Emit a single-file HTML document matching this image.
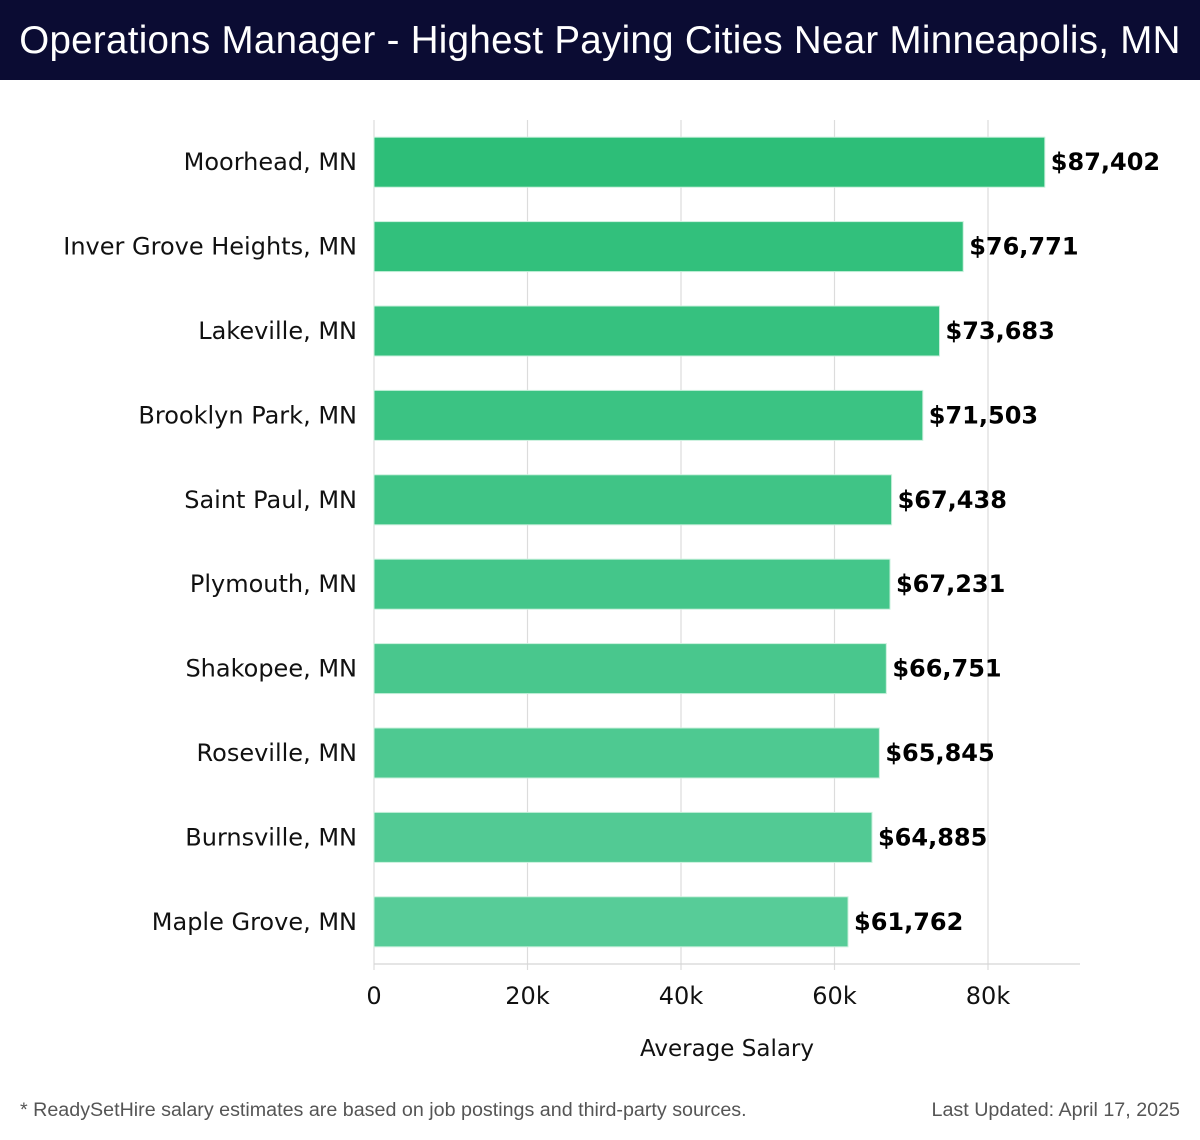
<!DOCTYPE html>
<html><head><meta charset="utf-8">
<style>
body{margin:0;background:#fff;width:1200px;height:1140px;overflow:hidden;font-family:"DejaVu Sans","Liberation Sans",sans-serif}
#title{position:absolute;left:0;top:0;width:1200px;height:80px;background:#0b0c33;color:#fff;font-size:38.5px;line-height:82px;text-align:center;font-family:"Liberation Sans","DejaVu Sans",sans-serif;letter-spacing:0.3px;white-space:nowrap}
.foot{position:absolute;top:1099px;font-size:19.7px;color:#555;font-family:"Liberation Sans",sans-serif}
</style></head><body>
<div id="title">Operations Manager - Highest Paying Cities Near Minneapolis, MN</div>
<svg id="chart" width="1200" height="1140" style="position:absolute;left:0;top:0"></svg>
<div class="foot" style="left:20px">* ReadySetHire salary estimates are based on job postings and third-party sources.</div>
<div class="foot" style="right:20px">Last Updated: April 17, 2025</div>
<script>
const categories=["Moorhead, MN","Inver Grove Heights, MN","Lakeville, MN","Brooklyn Park, MN","Saint Paul, MN","Plymouth, MN","Shakopee, MN","Roseville, MN","Burnsville, MN","Maple Grove, MN"];
const salaries=[87402,76771,73683,71503,67438,67231,66751,65845,64885,61762];
const tickValues=[0,20000,40000,60000,80000];
const tickLabels=["0","20k","40k","60k","80k"];
const NS="http://www.w3.org/2000/svg";
const svg=document.getElementById('chart');
const x0=374,pxPerUnit=(988-374)/80000,plotTop=120,plotBottom=964,plotRight=1080;
const step=(plotBottom-plotTop)/categories.length,barH=50;
const xs=v=>x0+v*pxPerUnit;
const ys=i=>plotTop+step*i+step/2;
function mk(t,a){const e=document.createElementNS(NS,t);for(const k in a)e.setAttribute(k,a[k]);svg.appendChild(e);return e;}
tickValues.forEach((v,i)=>{
  const g=mk('line',{x1:xs(v),x2:xs(v),y1:plotTop,y2:plotBottom+6,stroke:'#dcdcdc','stroke-width':1.2});
  
  
  const t=mk('text',{x:xs(v),y:1004,'text-anchor':'middle','font-size':24,fill:'#111'});
  t.textContent=tickLabels[i];
  
  
});
const ax=mk('line',{x1:x0,x2:plotRight,y1:plotBottom,y2:plotBottom,stroke:'#d5d5d5','stroke-width':1.2});


const c0=[45,190,120],c1=[87,204,152];
categories.forEach((c,i)=>{
  const f=i/(categories.length-1);
  const col='rgb('+c0.map((v,k)=>Math.round(v+(c1[k]-v)*f)).join(',')+')';
  const r=mk('rect',{x:x0,y:ys(i)-barH/2,width:xs(salaries[i])-x0,height:barH,fill:col,stroke:'#c9f0dc','stroke-width':1});
  
  
  const l=mk('text',{x:357,y:ys(i)+8,'text-anchor':'end','font-size':24,fill:'#111'});
  l.textContent=c;
  
  
  const v=mk('text',{x:xs(salaries[i])+6,y:ys(i)+8,'font-size':24,'font-weight':'bold',fill:'#000'});
  v.textContent='$'+salaries[i].toLocaleString('en-US');
  
  
});
const at=mk('text',{x:727,y:1056,'text-anchor':'middle','font-size':23,fill:'#111'});
at.textContent='Average Salary';


</script>
</body></html>
